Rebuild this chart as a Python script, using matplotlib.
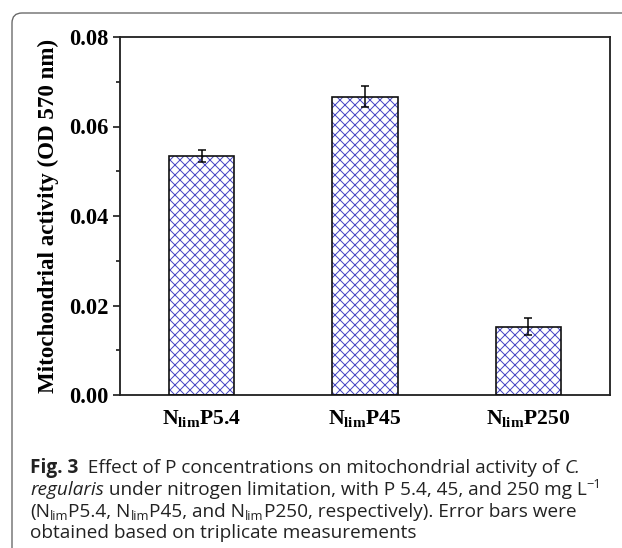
import matplotlib
matplotlib.use("Agg")
import matplotlib.pyplot as plt
from matplotlib.patches import FancyBboxPatch
from matplotlib.transforms import IdentityTransform
import numpy as np

# -------------------------
# Data
# -------------------------
groups = [r"$\mathbf{N_{lim}P5.4}$", r"$\mathbf{N_{lim}P45}$", r"$\mathbf{N_{lim}P250}$"]
activity = [0.0534, 0.0667, 0.0153]
activity_err = [0.0013, 0.0024, 0.0019]
yticks = [0.00, 0.02, 0.04, 0.06, 0.08]

plt.rcParams["mathtext.fontset"] = "custom"
plt.rcParams["mathtext.rm"] = "Liberation Serif"
plt.rcParams["mathtext.bf"] = "Liberation Serif:bold"
plt.rcParams["hatch.linewidth"] = 0.6

DPI = 120
W, H = 622, 548
fig = plt.figure(figsize=(W / DPI, H / DPI), dpi=DPI)
ax = fig.add_axes([120 / W, 1 - 395 / H, 490 / W, 358 / H])

x = np.arange(1, len(groups) + 1)
# hatch layer (blue) then black outline on top
ax.bar(x, activity, width=0.4, color="white", edgecolor="#4a4ac4",
       hatch="xxxx", linewidth=0, zorder=2)
ax.bar(x, activity, width=0.4, fill=False, edgecolor="#111111",
       linewidth=1.0, zorder=3)
ax.errorbar(x, activity, yerr=activity_err, fmt="none", ecolor="black",
            elinewidth=0.9, capsize=2.2, capthick=0.9, zorder=4)

ax.set_xlim(0.5, 3.5)
ax.set_ylim(0, 0.08)
ax.set_xticks(x)
ax.set_xticklabels(groups, fontsize=13)
ax.set_yticks(yticks)
ax.set_yticklabels([f"{v:.2f}" for v in yticks], fontsize=13.5,
                   family="Liberation Serif", fontweight="bold")
ax.set_yticks(np.arange(0.01, 0.08, 0.02), minor=True)
ax.tick_params(axis="x", length=0, pad=8)
ax.tick_params(axis="y", which="major", length=4, width=0.9, direction="out", pad=3)
ax.tick_params(axis="y", which="minor", length=2.2, width=0.9, direction="out")
for s in ax.spines.values():
    s.set_linewidth(1.1)
    s.set_color("#222222")

ax.set_ylabel("Mitochondrial activity (OD 570 nm)", fontsize=13.8,
              family="Liberation Serif", fontweight="bold", labelpad=6)

# -------------------------
# Frame around figure + caption
# -------------------------
frame = FancyBboxPatch((12, -60), 700, H - 13 + 60,
                       boxstyle="round,pad=0,rounding_size=10",
                       transform=IdentityTransform(), fill=False,
                       edgecolor="#666666", linewidth=0.8)
fig.patches.append(frame)

renderer = fig.canvas.get_renderer()
CAP_FS = 11.4
CAP_FONT = "Open Sans"


def text_width(s, **kw):
    bar = fig.text(0, 0, "|", **kw)
    t = fig.text(0, 0, s + "|", **kw)
    w = t.get_window_extent(renderer).width - bar.get_window_extent(renderer).width
    bar.remove()
    t.remove()
    return w


def caption_line(segments, x0, y0):
    xpos = x0
    for txt, kind in segments:
        kw = dict(family=CAP_FONT, fontsize=CAP_FS, color="#222222")
        dy = 0
        if kind == "bold":
            kw["fontweight"] = "bold"
        elif kind == "italic":
            kw["fontstyle"] = "italic"
        elif kind == "sub":
            kw["fontsize"] = CAP_FS * 0.68
            dy = -3.5
        elif kind == "sup":
            kw["fontsize"] = CAP_FS * 0.68
            dy = 7
        fig.text(xpos / W, 1 - (y0 - dy) / H, txt, va="baseline", ha="left", **kw)
        xpos += text_width(txt, **kw)


caption = [
    [("Fig. 3", "bold"), ("  Effect of P concentrations on mitochondrial activity of ", "n"),
     ("C.", "italic")],
    [("regularis", "italic"), (" under nitrogen limitation, with P 5.4, 45, and 250 mg L", "n"),
     ("\u22121", "sup")],
    [("(N", "n"), ("lim", "sub"), ("P5.4, N", "n"), ("lim", "sub"), ("P45, and N", "n"),
     ("lim", "sub"), ("P250, respectively). Error bars were", "n")],
    [("obtained based on triplicate measurements", "n")],
]
baselines = [473, 495, 517, 538]
for line, yb in zip(caption, baselines):
    caption_line(line, 30, yb)

fig.savefig("out.png", dpi=DPI)
